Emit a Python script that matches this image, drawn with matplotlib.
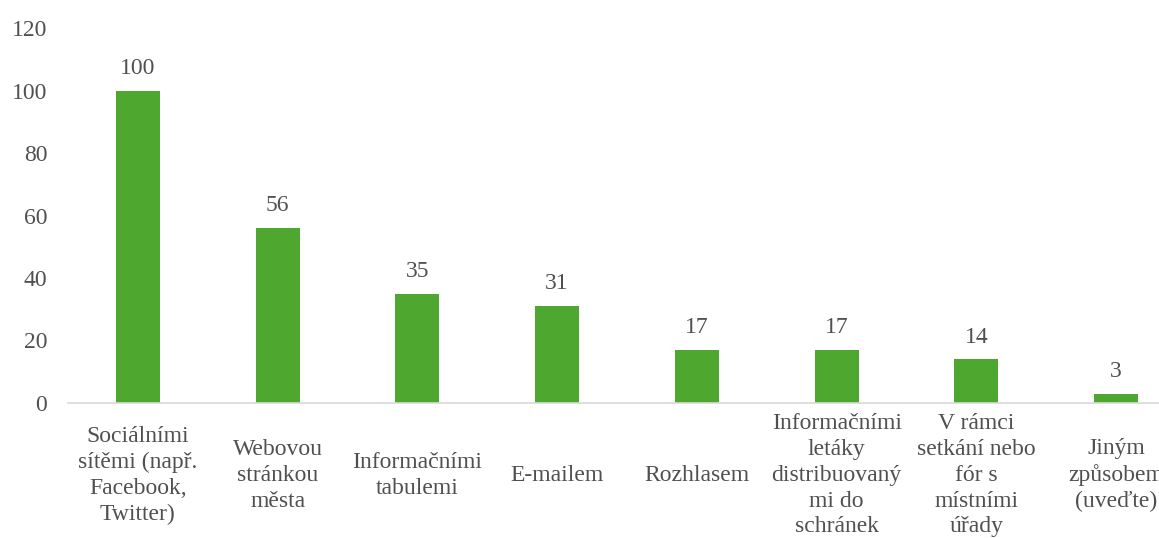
import matplotlib
matplotlib.use("Agg")
import matplotlib.pyplot as plt

categories = [
    "Sociálními\nsítěmi (např.\nFacebook,\nTwitter)",
    "Webovou\nstránkou\nměsta",
    "Informačními\ntabulemi",
    "E-mailem",
    "Rozhlasem",
    "Informačními\nletáky\ndistribuovaný\nmi do\nschránek",
    "V rámci\nsetkání nebo\nfór s\nmístními\núřady",
    "Jiným\nzpůsobem\n(uveďte)",
]
values = [100, 56, 35, 31, 17, 17, 14, 3]
yticks = [0, 20, 40, 60, 80, 100, 120]

plt.rcParams['font.family'] = ['Liberation Serif', 'DejaVu Serif']
TEXT = '#505050'
FS = 17

W, H = 1159, 538
fig = plt.figure(figsize=(W / 100, H / 100), dpi=100)
left_px, right_px, top_px, bot_px = 68, 1186, 28, 403
ax = fig.add_axes([left_px / W, 1 - bot_px / H, (right_px - left_px) / W, (bot_px - top_px) / H])

x = list(range(len(values)))
bars = ax.bar(x, values, width=0.315, color='#4EA72E', zorder=2)
for xi, v in zip(x, values):
    ax.annotate(str(v), (xi, v), xytext=(0, 16), textcoords='offset points',
                ha='center', va='center', fontsize=FS, color=TEXT)

ax.set_xlim(-0.5, len(values) - 0.5)
ax.set_ylim(0, 120)
ax.set_yticks(yticks)
ax.set_yticklabels([str(t) for t in yticks], fontsize=FS, color=TEXT)
ax.set_xticks(x)
ax.set_xticklabels(categories, fontsize=FS, color=TEXT, linespacing=1.3)
for lbl in ax.get_xticklabels():
    lbl.set_va('center')
ax.tick_params(axis='x', length=0, pad=52)
ax.tick_params(axis='y', length=0, pad=15)
for s in ['top', 'right', 'left']:
    ax.spines[s].set_visible(False)
ax.spines['bottom'].set_color('#D9D9D9')
ax.spines['bottom'].set_linewidth(1.2)

fig.savefig('out.png', dpi=100)
